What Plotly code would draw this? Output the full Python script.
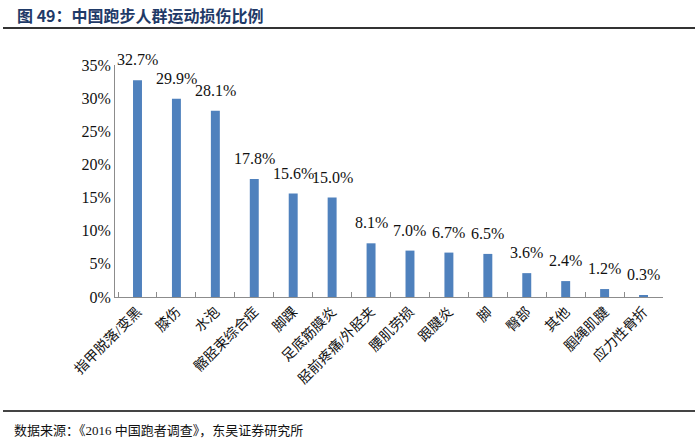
import plotly.graph_objects as go

categories = ["指甲脱落/变黑", "膝伤", "水泡", "髂胫束综合症", "脚踝", "足底筋膜炎",
              "胫前疼痛/外胫夹", "腰肌劳损", "跟腱炎", "脚", "臀部", "其他", "腘绳肌腱", "应力性骨折"]
values = [32.7, 29.9, 28.1, 17.8, 15.6, 15.0, 8.1, 7.0, 6.7, 6.5, 3.6, 2.4, 1.2, 0.3]
y_ticks = [0, 5, 10, 15, 20, 25, 30, 35]
y_tick_labels = [f"{v}%" for v in y_ticks]
title_text = "图 49：中国跑步人群运动损伤比例"
source_text = "数据来源：《2016 中国跑者调查》，东吴证券研究所"

serif = "Liberation Serif, Noto Sans CJK SC"
W, H = 700, 443
L, R, T, B = 115, 663, 65, 297
pw, ph = R - L, B - T

fig = go.Figure()
fig.add_trace(go.Bar(x=categories, y=values, marker=dict(color="#4f81bd", line=dict(width=0)),
                     hoverinfo="skip"))

for c, v in zip(categories, values):
    fig.add_annotation(x=c, y=v, text=f"{v:.1f}%", showarrow=False, yanchor="bottom",
                       yshift=10, font=dict(family=serif, size=16, color="#111"))

def px(x):
    return (x - L) / pw

def py(y):
    return (B - y) / ph

fig.add_annotation(xref="paper", yref="paper", x=px(15), y=py(15), text=f"<b>{title_text}</b>",
                   showarrow=False, xanchor="left", yanchor="middle",
                   font=dict(family="Noto Sans CJK SC", size=16, color="#1f3a68"))
fig.add_annotation(xref="paper", yref="paper", x=px(12), y=py(430), text=source_text,
                   showarrow=False, xanchor="left", yanchor="middle",
                   font=dict(family=serif, size=13, color="#111"))
fig.add_shape(type="line", xref="paper", yref="paper", x0=px(3), x1=px(695), y0=py(28), y1=py(28),
              line=dict(color="#333", width=2))
fig.add_shape(type="line", xref="paper", yref="paper", x0=px(3), x1=px(695), y0=py(411), y1=py(411),
              line=dict(color="#444", width=2))

fig.update_layout(
    width=W, height=H,
    margin=dict(l=L, r=W - R, t=T, b=H - B, pad=0),
    paper_bgcolor="white", plot_bgcolor="white",
    bargap=0.77, showlegend=False,
    font=dict(family=serif, color="#111"),
    xaxis=dict(type="category", showline=True, linecolor="#8c8c8c", linewidth=1,
               ticks="inside", tickson="boundaries", ticklen=5, tickcolor="#8c8c8c",
               tickangle=-45, tickfont=dict(family=serif, size=14, color="#111"),
               showgrid=False, zeroline=False, fixedrange=True),
    yaxis=dict(range=[0, 35], tickvals=y_ticks, ticktext=y_tick_labels,
               showline=True, linecolor="#8c8c8c", linewidth=1, ticks="",
               tickfont=dict(family=serif, size=16, color="#111"),
               showgrid=False, zeroline=False, fixedrange=True),
)

fig.write_html("out.html", config={"displayModeBar": False},
               post_script="document.body.style.margin='0';")
